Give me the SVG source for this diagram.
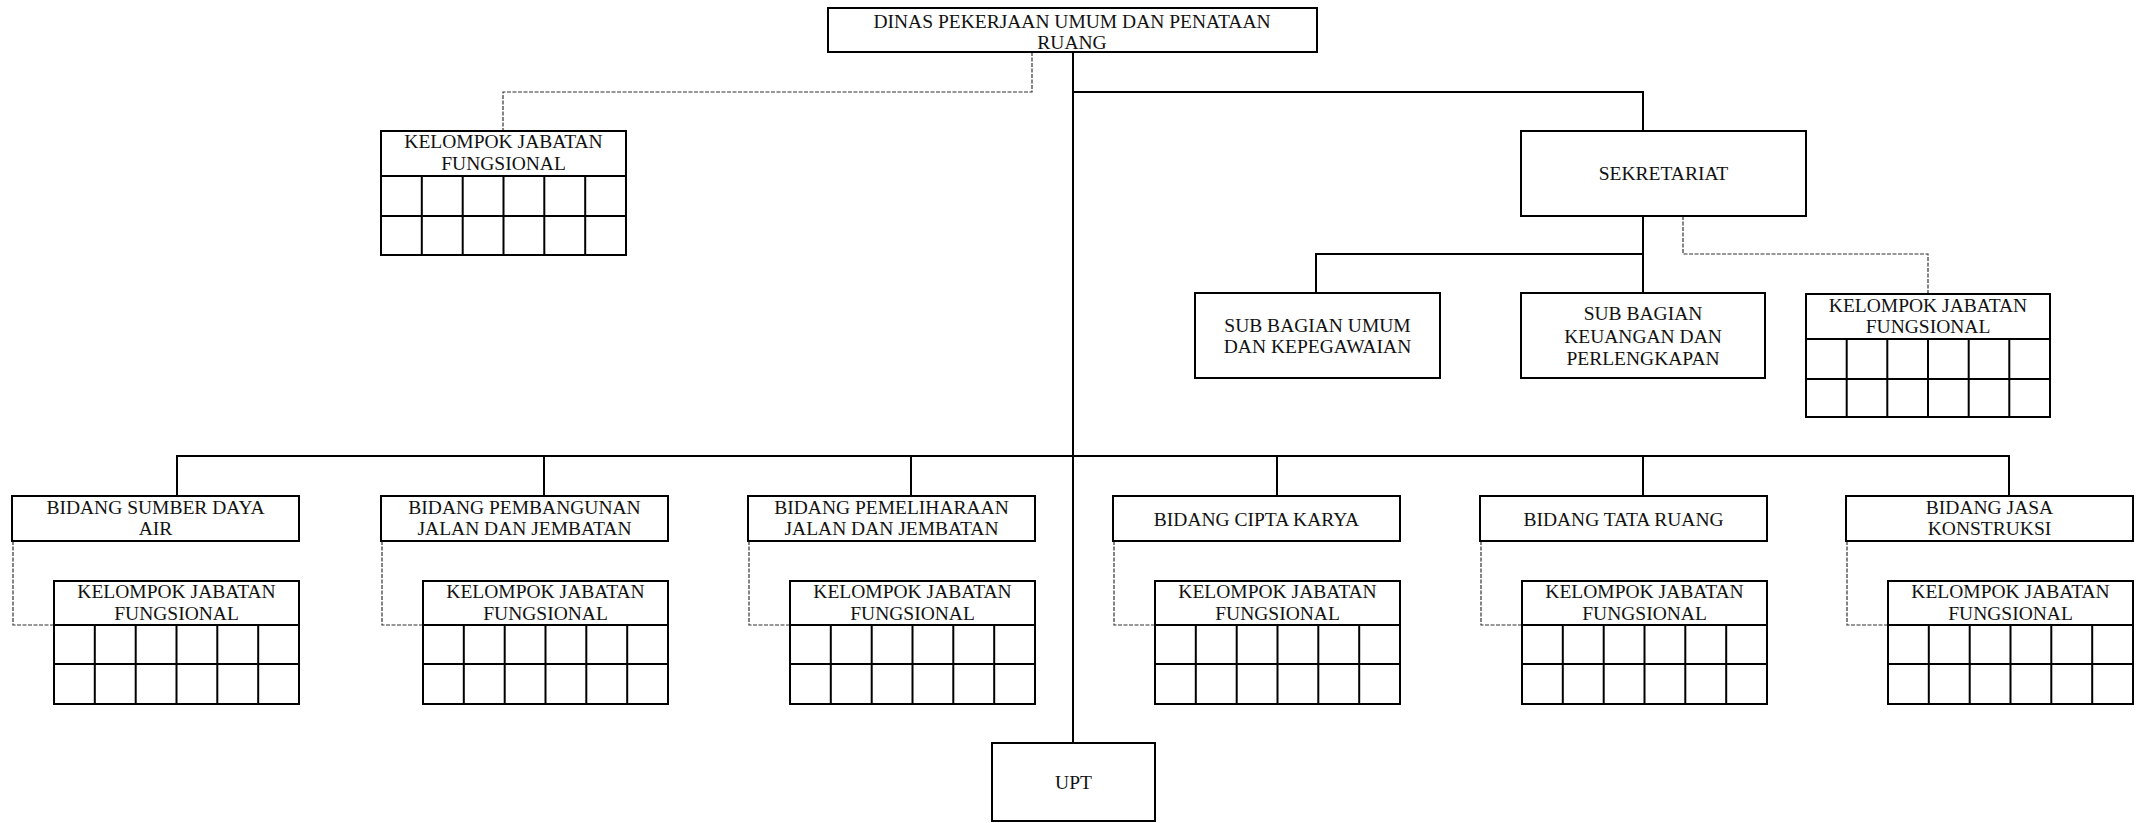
<svg xmlns="http://www.w3.org/2000/svg" width="2136" height="823" viewBox="0 0 2136 823">
  <style>
    .box { fill: #fff; stroke: #000; stroke-width: 2; }
    .ln { fill: none; stroke: #000; stroke-width: 2; }
    .dash { fill: none; stroke: #333; stroke-width: 1.2; stroke-dasharray: 4 1.5; }
    .grid { fill: none; stroke: #000; stroke-width: 2; }
    text { font-family: "Liberation Serif", "Times New Roman", serif; font-size: 19.5px; text-anchor: middle; fill: #111; }
  </style>
  <rect x="0" y="0" width="2136" height="823" fill="#fff"/>

  <!-- connectors -->
  <g id="connectors">
    <!-- main trunk from the head office down to UPT -->
    <path class="ln" d="M1073 52 V743"/>
    <!-- branch to SEKRETARIAT -->
    <path class="ln" d="M1073 92 H1643 V131"/>
    <!-- dotted link to the top functional group -->
    <path class="dash" d="M1032 52 V92 H503 V131"/>
    <!-- SEKRETARIAT to its sub-sections -->
    <path class="ln" d="M1643 216 V293"/>
    <path class="ln" d="M1316 293 V254 H1643"/>
    <path class="dash" d="M1683 216 V254 H1928 V294"/>
    <!-- bus to the six divisions -->
    <path class="ln" d="M177 496 V456 H2009 V496"/>
    <path class="ln" d="M544 456 V496 M911 456 V496 M1277 456 V496 M1643 456 V496"/>
    <!-- dotted links from each division to its functional group -->
    <path class="dash" d="M13 541 V625 H54"/>
    <path class="dash" d="M382 541 V625 H423"/>
    <path class="dash" d="M749 541 V625 H790"/>
    <path class="dash" d="M1114 541 V625 H1155"/>
    <path class="dash" d="M1481 541 V625 H1522"/>
    <path class="dash" d="M1847 541 V625 H1888"/>
  </g>

  <g id="dinas">
    <rect class="box" x="828" y="8" width="489" height="44"/>
    <text x="1072" y="28">DINAS PEKERJAAN UMUM DAN PENATAAN</text>
    <text x="1072" y="49">RUANG</text>
  </g>

  <g id="kjf-dinas">
    <rect class="box" x="381" y="131" width="245" height="124"/>
    <path class="grid" d="M381 176 H626 M381 216 H626 M421.8 176 V255 M462.7 176 V255 M503.5 176 V255 M544.3 176 V255 M585.2 176 V255"/>
    <text x="503.5" y="148">KELOMPOK JABATAN</text>
    <text x="503.5" y="170">FUNGSIONAL</text>
  </g>

  <g id="sekretariat">
    <rect class="box" x="1521" y="131" width="285" height="85"/>
    <text x="1663.5" y="180">SEKRETARIAT</text>
  </g>

  <g id="subbag-umum">
    <rect class="box" x="1195" y="293" width="245" height="85"/>
    <text x="1317.5" y="332">SUB BAGIAN UMUM</text>
    <text x="1317.5" y="353">DAN KEPEGAWAIAN</text>
  </g>

  <g id="subbag-keuangan">
    <rect class="box" x="1521" y="293" width="244" height="85"/>
    <text x="1643" y="320">SUB BAGIAN</text>
    <text x="1643" y="343">KEUANGAN DAN</text>
    <text x="1643" y="365">PERLENGKAPAN</text>
  </g>

  <g id="kjf-sekretariat">
    <rect class="box" x="1806" y="294" width="244" height="123"/>
    <path class="grid" d="M1806 339 H2050 M1806 379 H2050 M1846.7 339 V417 M1887.3 339 V417 M1928 339 V417 M1968.7 339 V417 M2009.3 339 V417"/>
    <text x="1928" y="312">KELOMPOK JABATAN</text>
    <text x="1928" y="333">FUNGSIONAL</text>
  </g>

  <!-- divisions -->
  <g id="bidang-sda">
    <rect class="box" x="12" y="496" width="287" height="45"/>
    <text x="155.5" y="514">BIDANG SUMBER DAYA</text>
    <text x="155.5" y="535">AIR</text>
  </g>
  <g id="kjf-sda">
    <rect class="box" x="54" y="581" width="245" height="123"/>
    <path class="grid" d="M54 625 H299 M54 664 H299 M94.8 625 V704 M135.7 625 V704 M176.5 625 V704 M217.3 625 V704 M258.2 625 V704"/>
    <text x="176.5" y="598">KELOMPOK JABATAN</text>
    <text x="176.5" y="620">FUNGSIONAL</text>
  </g>

  <g id="bidang-pembangunan">
    <rect class="box" x="381" y="496" width="287" height="45"/>
    <text x="524.5" y="514">BIDANG PEMBANGUNAN</text>
    <text x="524.5" y="535">JALAN DAN JEMBATAN</text>
  </g>
  <g id="kjf-pembangunan">
    <rect class="box" x="423" y="581" width="245" height="123"/>
    <path class="grid" d="M423 625 H668 M423 664 H668 M463.8 625 V704 M504.7 625 V704 M545.5 625 V704 M586.3 625 V704 M627.2 625 V704"/>
    <text x="545.5" y="598">KELOMPOK JABATAN</text>
    <text x="545.5" y="620">FUNGSIONAL</text>
  </g>

  <g id="bidang-pemeliharaan">
    <rect class="box" x="748" y="496" width="287" height="45"/>
    <text x="891.5" y="514">BIDANG PEMELIHARAAN</text>
    <text x="891.5" y="535">JALAN DAN JEMBATAN</text>
  </g>
  <g id="kjf-pemeliharaan">
    <rect class="box" x="790" y="581" width="245" height="123"/>
    <path class="grid" d="M790 625 H1035 M790 664 H1035 M830.8 625 V704 M871.7 625 V704 M912.5 625 V704 M953.3 625 V704 M994.2 625 V704"/>
    <text x="912.5" y="598">KELOMPOK JABATAN</text>
    <text x="912.5" y="620">FUNGSIONAL</text>
  </g>

  <g id="bidang-cipta-karya">
    <rect class="box" x="1113" y="496" width="287" height="45"/>
    <text x="1256.5" y="526">BIDANG CIPTA KARYA</text>
  </g>
  <g id="kjf-cipta-karya">
    <rect class="box" x="1155" y="581" width="245" height="123"/>
    <path class="grid" d="M1155 625 H1400 M1155 664 H1400 M1195.8 625 V704 M1236.7 625 V704 M1277.5 625 V704 M1318.3 625 V704 M1359.2 625 V704"/>
    <text x="1277.5" y="598">KELOMPOK JABATAN</text>
    <text x="1277.5" y="620">FUNGSIONAL</text>
  </g>

  <g id="bidang-tata-ruang">
    <rect class="box" x="1480" y="496" width="287" height="45"/>
    <text x="1623.5" y="526">BIDANG TATA RUANG</text>
  </g>
  <g id="kjf-tata-ruang">
    <rect class="box" x="1522" y="581" width="245" height="123"/>
    <path class="grid" d="M1522 625 H1767 M1522 664 H1767 M1562.8 625 V704 M1603.7 625 V704 M1644.5 625 V704 M1685.3 625 V704 M1726.2 625 V704"/>
    <text x="1644.5" y="598">KELOMPOK JABATAN</text>
    <text x="1644.5" y="620">FUNGSIONAL</text>
  </g>

  <g id="bidang-jasa-konstruksi">
    <rect class="box" x="1846" y="496" width="287" height="45"/>
    <text x="1989.5" y="514">BIDANG JASA</text>
    <text x="1989.5" y="535">KONSTRUKSI</text>
  </g>
  <g id="kjf-jasa-konstruksi">
    <rect class="box" x="1888" y="581" width="245" height="123"/>
    <path class="grid" d="M1888 625 H2133 M1888 664 H2133 M1928.8 625 V704 M1969.7 625 V704 M2010.5 625 V704 M2051.3 625 V704 M2092.2 625 V704"/>
    <text x="2010.5" y="598">KELOMPOK JABATAN</text>
    <text x="2010.5" y="620">FUNGSIONAL</text>
  </g>

  <g id="upt">
    <rect class="box" x="992" y="743" width="163" height="78"/>
    <text x="1073.5" y="789">UPT</text>
  </g>
</svg>
